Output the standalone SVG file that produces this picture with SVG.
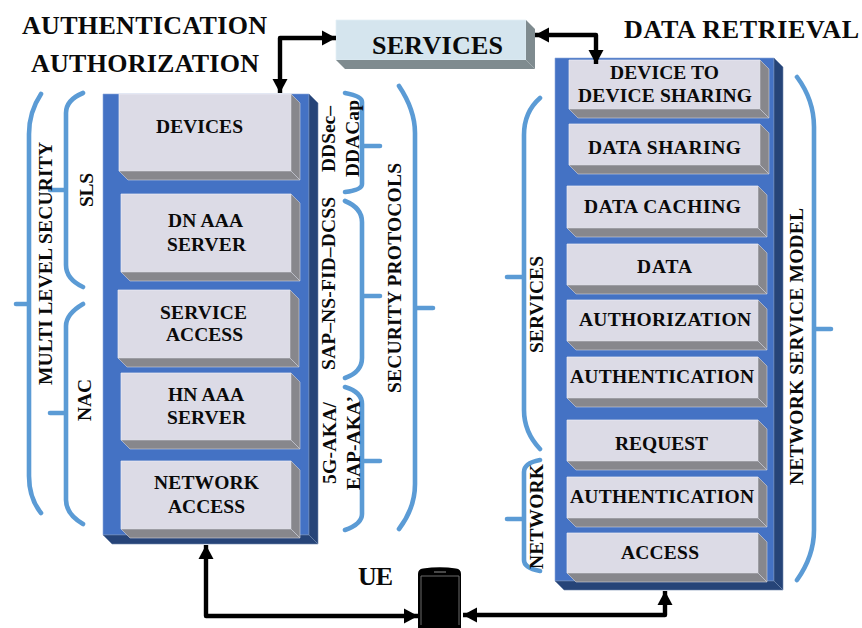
<svg xmlns="http://www.w3.org/2000/svg" width="862" height="628" viewBox="0 0 862 628">
<style>
text{font-family:"Liberation Serif","Times New Roman",serif;font-weight:bold;fill:#0a0a0a;font-size:19.5px}
.t{font-size:26px}
.f{fill:#dcdbe6;stroke:#eeeef5;stroke-width:.7}
.s{fill:#87878c;stroke:#d4d4dc;stroke-width:.6}
.pf{fill:#4472c4;stroke:#8fa9dc;stroke-width:.6}
.pd{fill:#264478;stroke:#6f86ad;stroke-width:.6}
.b{fill:none;stroke:#5b9bd5;stroke-width:4.6;stroke-linecap:round;stroke-linejoin:round}
.a{fill:none;stroke:#000;stroke-width:4.4;stroke-linejoin:round}
</style>
<defs>
<marker id="h" markerUnits="userSpaceOnUse" markerWidth="15" markerHeight="16" refX="14" refY="8" orient="auto-start-reverse"><path d="M0 0.5L14 8L0 15.5Z" fill="#000"/></marker>
</defs>

<g id="panel-left"><path class="pf" d="M103 94H309V535H103Z"/><path class="pd" d="M309 94L318 103V544L309 535Z"/><path class="pd" d="M103 535H309L318 544H112Z"/></g>
<g id="panel-right"><path class="pf" d="M555 58H774V581H555Z"/><path class="pd" d="M774 58L783 67V590L774 581Z"/><path class="pd" d="M555 581H774L783 590H564Z"/></g>

<g id="services-box"><path d="M336 20H526V60H336Z" fill="#d5e5ee" stroke="#e4eff5" stroke-width=".7"/><path d="M526 20L535 29V69L526 60Z" fill="#7f8b8f"/><path d="M336 60H526L535 69H345Z" fill="#7f8b8f"/><text class="t" x="372" y="54" textLength="131">SERVICES</text></g>

<g id="devices"><path class="f" d="M119 94H291V171H119Z"/><path class="s" d="M291 94L300 103V180L291 171Z"/><path class="s" d="M119 171H291L300 180H128Z"/><text x="156" y="133" textLength="87">DEVICES</text></g>
<g id="dn-aaa-server"><path class="f" d="M121 194H291V272H121Z"/><path class="s" d="M291 194L300 203V281L291 272Z"/><path class="s" d="M121 272H291L300 281H130Z"/><text x="168" y="227" textLength="75">DN AAA</text><text x="167" y="251" textLength="79">SERVER</text></g>
<g id="service-access"><path class="f" d="M118 290H290V358H118Z"/><path class="s" d="M290 290L299 299V367L290 358Z"/><path class="s" d="M118 358H290L299 367H127Z"/><text x="160" y="319" textLength="87">SERVICE</text><text x="166" y="341" textLength="77">ACCESS</text></g>
<g id="hn-aaa-server"><path class="f" d="M121 373H291V440H121Z"/><path class="s" d="M291 373L300 382V449L291 440Z"/><path class="s" d="M121 440H291L300 449H130Z"/><text x="168" y="401" textLength="76">HN AAA</text><text x="167" y="424" textLength="79">SERVER</text></g>
<g id="network-access"><path class="f" d="M121 461H291V529H121Z"/><path class="s" d="M291 461L300 470V538L291 529Z"/><path class="s" d="M121 529H291L300 538H130Z"/><text x="154" y="489" textLength="105">NETWORK</text><text x="168" y="513" textLength="77">ACCESS</text></g>

<g id="device-to-device"><path class="f" d="M569 60H760V109H569Z"/><path class="s" d="M760 60L769 69V118L760 109Z"/><path class="s" d="M569 109H760L769 118H578Z"/><text x="610" y="79" textLength="109">DEVICE TO</text><text x="578" y="102" textLength="174">DEVICE SHARING</text></g>
<g id="data-sharing"><path class="f" d="M569 124H760V165H569Z"/><path class="s" d="M760 124L769 133V174L760 165Z"/><path class="s" d="M569 165H760L769 174H578Z"/><text x="588" y="154" textLength="153">DATA SHARING</text></g>
<g id="data-caching"><path class="f" d="M567 186H758V228H567Z"/><path class="s" d="M758 186L767 195V237L758 228Z"/><path class="s" d="M567 228H758L767 237H576Z"/><text x="584" y="213" textLength="157">DATA CACHING</text></g>
<g id="data"><path class="f" d="M567 244H758V285H567Z"/><path class="s" d="M758 244L767 253V294L758 285Z"/><path class="s" d="M567 285H758L767 294H576Z"/><text x="637" y="273" textLength="55">DATA</text></g>
<g id="authorization"><path class="f" d="M567 300H758V341H567Z"/><path class="s" d="M758 300L767 309V350L758 341Z"/><path class="s" d="M567 341H758L767 350H576Z"/><text x="579" y="326" textLength="172">AUTHORIZATION</text></g>
<g id="authentication-1"><path class="f" d="M567 357H758V398H567Z"/><path class="s" d="M758 357L767 366V407L758 398Z"/><path class="s" d="M567 398H758L767 407H576Z"/><text x="570" y="383" textLength="184">AUTHENTICATION</text></g>
<g id="request"><path class="f" d="M567 420H758V461H567Z"/><path class="s" d="M758 420L767 429V470L758 461Z"/><path class="s" d="M567 461H758L767 470H576Z"/><text x="615" y="450" textLength="93">REQUEST</text></g>
<g id="authentication-2"><path class="f" d="M567 477H758V518H567Z"/><path class="s" d="M758 477L767 486V527L758 518Z"/><path class="s" d="M567 518H758L767 527H576Z"/><text x="570" y="503" textLength="184">AUTHENTICATION</text></g>
<g id="access"><path class="f" d="M567 533H758V573H567Z"/><path class="s" d="M758 533L767 542V582L758 573Z"/><path class="s" d="M567 573H758L767 582H576Z"/><text x="621" y="559" textLength="78">ACCESS</text></g>

<g id="ue"><path d="M418 628V574Q418 569 423 568.500Q440 566 456 568.500Q461 569 461 574V628Z" fill="#000"/><path d="M421 625V576H459V625" fill="none" stroke="#6a6a6a" stroke-width="1"/><path d="M434 572H446" stroke="#777" stroke-width="1.200"/><text class="t" x="358" y="585" textLength="35">UE</text></g>

<g id="titles"><text class="t" x="22" y="34" textLength="245">AUTHENTICATION</text><text class="t" x="31" y="72" textLength="228">AUTHORIZATION</text><text class="t" x="624" y="38" textLength="235">DATA RETRIEVAL</text></g>

<g id="braces">
<path class="b" d="M41 94Q29 112 29 134V476Q29 498 41 513M29 304H16"/>
<path class="b" d="M83 93Q66 100 66 113V265Q66 279 83 287M66 190H50"/>
<path class="b" d="M83 304Q66 314 66 326V500Q66 514 83 524M66 413H50"/>
<path class="b" d="M345 93Q362 96 362 102V184Q362 190 345 192M362 146H380"/>
<path class="b" d="M345 201Q362 208 362 222V358Q362 372 345 378M362 296H380"/>
<path class="b" d="M345 387Q362 392 362 404V514Q362 524 345 530M362 461H380"/>
<path class="b" d="M399 86Q415 110 415 133V484Q415 508 399 529M415 308H433"/>
<path class="b" d="M540 98Q524 112 524 135V410Q524 432 540 449M524 277H507"/>
<path class="b" d="M540 460Q524 463 524 472V560Q524 568 540 571M524 519H507"/>
<path class="b" d="M797 77Q814 100 814 127V530Q814 556 797 580M814 329H831"/>
</g>

<g id="connectors">
<path class="a" d="M280 93V38H336" marker-start="url(#h)" marker-end="url(#h)"/>
<path class="a" d="M535 35H596V64" marker-start="url(#h)" marker-end="url(#h)"/>
<path class="a" d="M206 545V616H418" marker-start="url(#h)" marker-end="url(#h)"/>
<path class="a" d="M463 615H665V591" marker-start="url(#h)" marker-end="url(#h)"/>
</g>

<g id="side-labels">
<text transform="rotate(-90 52 385)" x="52" y="385" textLength="243">MULTI LEVEL SECURITY</text>
<text transform="rotate(-90 93 207)" x="93" y="207" textLength="34">SLS</text>
<text transform="rotate(-90 91 421)" x="91" y="421" textLength="42">NAC</text>
<text transform="rotate(-90 335 172)" x="335" y="172" textLength="66">DDSec–</text>
<text transform="rotate(-90 359 177)" x="359" y="177" textLength="77">DDACap</text>
<text transform="rotate(-90 335 370)" x="335" y="370" textLength="173">SAP–NS-FID–DCSS</text>
<text transform="rotate(-90 401 393)" x="401" y="393" textLength="230">SECURITY PROTOCOLS</text>
<text transform="rotate(-90 336 484)" x="336" y="484" textLength="82">5G-AKA/</text>
<text transform="rotate(-90 360 490)" x="360" y="490" textLength="94">EAP-AKA’</text>
<text transform="rotate(-90 543 353)" x="543" y="353" textLength="97">SERVICES</text>
<text transform="rotate(-90 543 569)" x="543" y="569" textLength="105">NETWORK</text>
<text transform="rotate(-90 803 485)" x="803" y="485" textLength="277">NETWORK SERVICE MODEL</text>
</g>
</svg>
